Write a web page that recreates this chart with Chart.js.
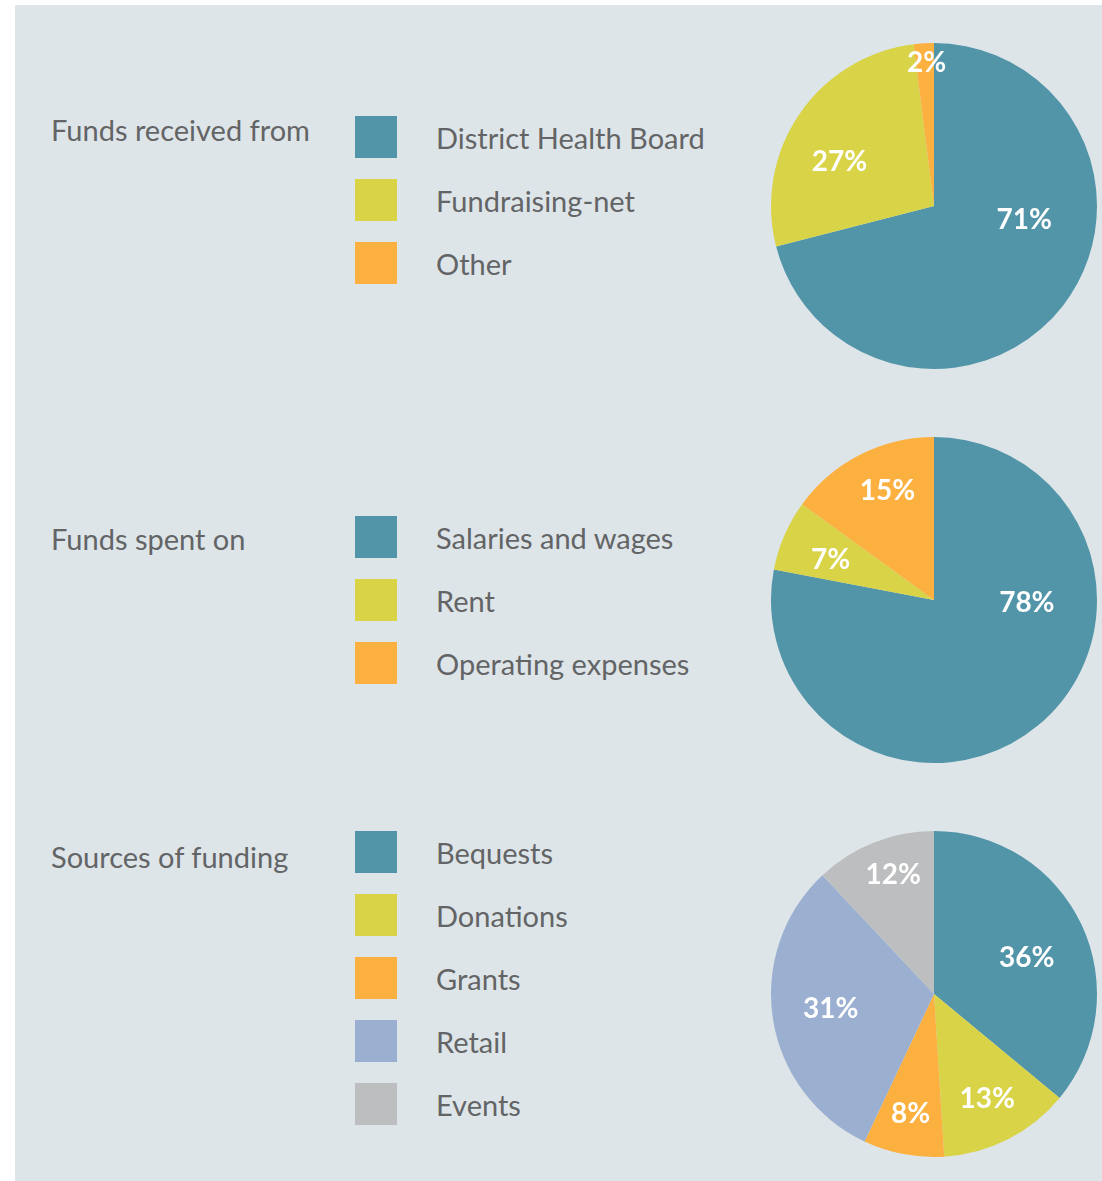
<!DOCTYPE html>
<html>
<head>
<meta charset="utf-8">
<script src="https://cdn.jsdelivr.net/npm/chart.js@4.4.0/dist/chart.umd.min.js"></script>
<style>
  body { margin: 0; background: #fff; font-family: Lato, "Open Sans", sans-serif; }
  #panel { position: absolute; left: 15px; top: 5px; width: 1087px; height: 1176px; background: #dee5e8; }
  .title { position: absolute; left: 51px; font-size: 29px; color: #636466; line-height: 42px; white-space: nowrap; }
  .legend { position: absolute; left: 355px; margin: 0; padding: 0; list-style: none; }
  .legend li { height: 42px; margin-bottom: 21px; display: flex; align-items: center; }
  .legend .box { width: 42px; height: 42px; margin-right: 39px; flex: none; }
  .legend span { font-size: 29px; color: #636466; white-space: nowrap; }
  .pie { position: absolute; left: 764px; width: 340px; height: 340px; }
</style>
</head>
<body>
<div id="panel"></div>
<div id="sections"></div>
<script>
// values (percent)
const receivedLabels = ["District Health Board", "Fundraising-net", "Other"];
const receivedValues = [71, 27, 2];

const spentLabels = ["Salaries and wages", "Rent", "Operating expenses"];
const spentValues = [78, 7, 15];

const sourceLabels = ["Bequests", "Donations", "Grants", "Retail", "Events"];
const sourceValues = [36, 13, 8, 31, 12];

const sliceColours = ["#5295a9", "#d8d347", "#fbb040", "#9bafd0", "#bdbec0"];

// where the % text sits: [angle clockwise from top, fraction of radius]
const sections = [
  { title: "Funds received from", labels: receivedLabels, values: receivedValues, top: 116, titleTop: 109, pieTop: 36,
    spots: [[99, 0.56], [295, 0.64], [357, 0.88]] },
  { title: "Funds spent on", labels: spentLabels, values: spentValues, top: 516, titleTop: 518, pieTop: 430,
    spots: [[92, 0.57], [291, 0.68], [337, 0.73]] },
  { title: "Sources of funding", labels: sourceLabels, values: sourceValues, top: 831, titleTop: 836, pieTop: 824,
    spots: [[69, 0.61], [153, 0.72], [191, 0.75], [262, 0.64], [341, 0.77]] },
];

// draws the white percentage on each slice
const sliceLabels = {
  id: "sliceLabels",
  afterDatasetsDraw(chart, args, opts) {
    const ctx = chart.ctx;
    const meta = chart.getDatasetMeta(0);
    const values = chart.data.datasets[0].data;
    ctx.save();
    ctx.font = "bold 28px Lato";
    ctx.fillStyle = "#ffffff";
    ctx.textAlign = "center";
    ctx.textBaseline = "middle";
    meta.data.forEach((arc, i) => {
      const [deg, frac] = opts.spots[i];
      const a = ((deg - 90) * Math.PI) / 180;
      const r = arc.outerRadius * frac;
      ctx.fillText(values[i] + "%", arc.x + r * Math.cos(a), arc.y + r * Math.sin(a));
    });
    ctx.restore();
  },
};

const holder = document.getElementById("sections");

const buildSection = (s) => {
  const title = document.createElement("div");
  title.className = "title";
  title.style.top = s.titleTop + "px";
  title.innerText = s.title;
  holder.appendChild(title);

  const list = document.createElement("ul");
  list.className = "legend";
  list.style.top = s.top + "px";
  s.labels.forEach((label, i) => {
    const li = document.createElement("li");
    li.innerHTML = `<div class="box" style="background:${sliceColours[i]}"></div><span>${label}</span>`;
    list.appendChild(li);
  });
  holder.appendChild(list);

  const wrap = document.createElement("div");
  wrap.className = "pie";
  wrap.style.top = s.pieTop + "px";
  const canvas = document.createElement("canvas");
  wrap.appendChild(canvas);
  holder.appendChild(wrap);

  new Chart(canvas, {
    type: "pie",
    data: {
      labels: s.labels,
      datasets: [
        {
          data: s.values,
          backgroundColor: sliceColours.slice(0, s.values.length),
          borderWidth: 0,
        },
      ],
    },
    options: {
      responsive: true,
      maintainAspectRatio: false,
      animation: false,
      layout: { padding: 7 },
      plugins: {
        legend: { display: false },
        tooltip: { enabled: false },
        sliceLabels: { spots: s.spots },
      },
    },
    plugins: [sliceLabels],
  });
};

document.fonts.load("bold 28px Lato").then(() => {
  sections.forEach(buildSection);
});
</script>
</body>
</html>
